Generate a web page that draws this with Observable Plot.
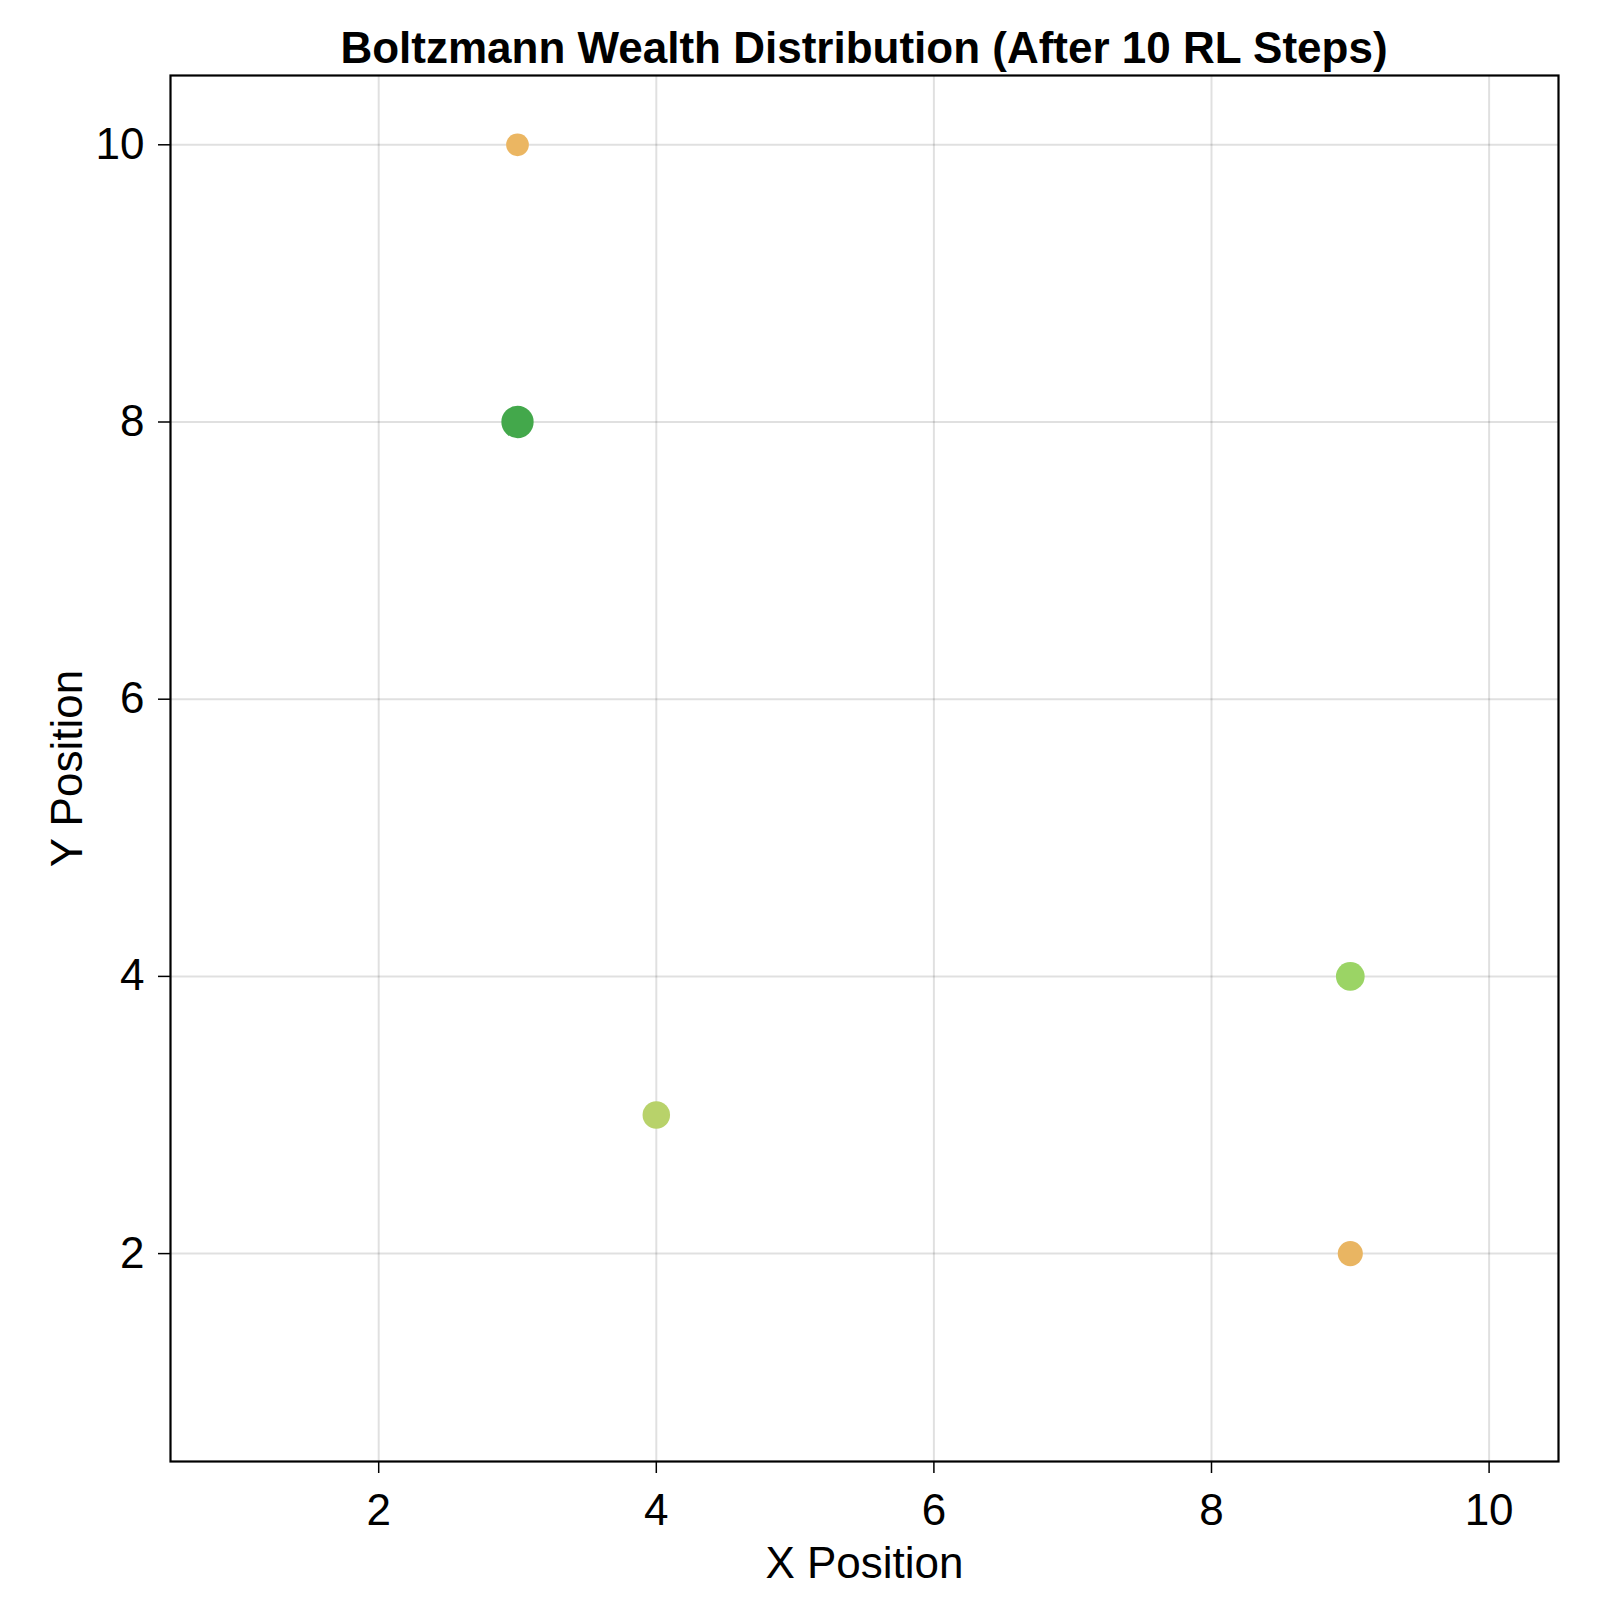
<!DOCTYPE html>
<html>
<head>
<meta charset="utf-8">
<script src="https://cdn.jsdelivr.net/npm/d3@7"></script>
<script src="https://cdn.jsdelivr.net/npm/@observablehq/plot@0.6"></script>
<style>
  html, body { margin: 0; padding: 0; background: #fff; }
  #wrap { position: relative; width: 1600px; height: 1600px; font-family: "Liberation Sans", Arial, sans-serif; }
  #chart { position: absolute; left: 0; top: 0; z-index: 1; }
  #title {
    position: absolute; left: 864px; top: 48px; transform: translate(-50%, -50%);
    font-size: 44px; font-weight: bold; white-space: nowrap; color: #000; z-index: 2;
  }
  #chart svg g[aria-label$="label"] text { font-size: 44px; }
</style>
</head>
<body>
<div id="wrap">
  <div id="chart"></div>
  <div id="title">Boltzmann Wealth Distribution (After 10 RL Steps)</div>
</div>
<script>
// Agent positions on the grid and their wealth
const agentX = [3, 3, 4, 9, 9];
const agentY = [10, 8, 3, 4, 2];
const agentWealth = [1, 5, 3, 3.5, 2];

// Tick values
const xTicks = [2, 4, 6, 8, 10];
const yTicks = [2, 4, 6, 8, 10];

// Wealth colour ramp (low = orange, high = green)
const wealthStops = [1, 2, 3, 3.5, 5];
const wealthColors = ["#ebb662", "#e9b562", "#b8d26a", "#9bd465", "#43a84b"];

const agents = agentX.map((x, i) => ({x, y: agentY[i], wealth: agentWealth[i]}));

const chart = Plot.plot({
  width: 1600,
  height: 1600,
  marginLeft: 170,
  marginRight: 42,
  marginTop: 75,
  marginBottom: 139,
  style: {fontFamily: "'Liberation Sans', Arial, sans-serif", fontSize: "42px", color: "#000", background: "transparent"},
  x: {domain: [0.5, 10.5], ticks: xTicks},
  y: {domain: [0.5, 10.5], ticks: yTicks},
  r: {type: "linear", domain: [0, 5], range: [10.15, 16.15]},
  color: {type: "linear", domain: wealthStops, range: wealthColors, interpolate: "rgb"},
  marks: [
    Plot.gridX(xTicks, {stroke: "#000", strokeOpacity: 0.12, strokeWidth: 2}),
    Plot.gridY(yTicks, {stroke: "#000", strokeOpacity: 0.12, strokeWidth: 2}),
    Plot.axisX(xTicks, {
      tickSize: 12, tickPadding: 20, strokeWidth: 1.5, fontSize: 42, tickFormat: "d",
      label: "X Position", labelAnchor: "center", labelOffset: 116, labelArrow: "none"
    }),
    Plot.axisY(yTicks, {
      tickSize: 12, tickPadding: 14, strokeWidth: 1.5, fontSize: 42, tickFormat: "d",
      label: "Y Position", labelAnchor: "center", labelOffset: 120, labelArrow: "none"
    }),
    Plot.dot(agents, {x: "x", y: "y", r: "wealth", fill: "wealth", stroke: "none"}),
    Plot.frame({stroke: "#000", strokeWidth: 2.2})
  ]
});

document.getElementById("chart").appendChild(chart);
</script>
</body>
</html>
